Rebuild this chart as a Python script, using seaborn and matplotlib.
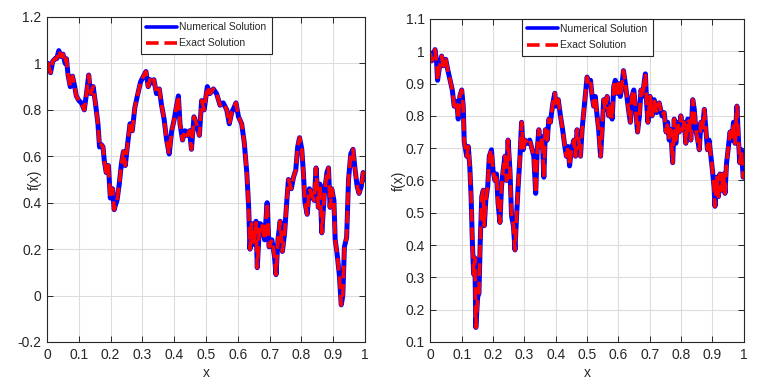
import matplotlib
matplotlib.use("Agg")
import matplotlib.pyplot as plt
import seaborn as sns

# ---------------- data ----------------
left_x = [0.0, 0.003, 0.011, 0.018, 0.025, 0.03, 0.037, 0.043, 0.05, 0.057, 0.061,
          0.066, 0.073, 0.08, 0.087, 0.092, 0.1, 0.108, 0.117, 0.124, 0.131, 0.137,
          0.145, 0.152, 0.16, 0.165, 0.171, 0.176, 0.18, 0.186, 0.193, 0.199, 0.206,
          0.211, 0.215, 0.22, 0.227, 0.234, 0.24, 0.246, 0.253, 0.261, 0.268, 0.276,
          0.284, 0.294, 0.303, 0.311, 0.318, 0.324, 0.329, 0.336, 0.344, 0.353, 0.36,
          0.368, 0.376, 0.384, 0.392, 0.4, 0.405, 0.413, 0.418, 0.426, 0.434, 0.441,
          0.448, 0.454, 0.462, 0.47, 0.479, 0.486, 0.494, 0.504, 0.512, 0.523, 0.533,
          0.544, 0.554, 0.565, 0.573, 0.581, 0.588, 0.594, 0.602, 0.612, 0.62, 0.628,
          0.634, 0.638, 0.643, 0.651, 0.657, 0.661, 0.666, 0.67, 0.677, 0.684, 0.692,
          0.698, 0.707, 0.715, 0.72, 0.726, 0.733, 0.74, 0.747, 0.754, 0.759, 0.768,
          0.775, 0.782, 0.788, 0.794, 0.801, 0.806, 0.811, 0.818, 0.825, 0.833, 0.84,
          0.846, 0.853, 0.858, 0.864, 0.872, 0.88, 0.885, 0.89, 0.895, 0.902, 0.906,
          0.912, 0.919, 0.925, 0.93, 0.935, 0.942, 0.948, 0.955, 0.962, 0.968, 0.975,
          0.981, 0.988, 0.994, 1.0]
left_y = [1.0, 1.0, 0.96, 1.01, 1.02, 1.02, 1.055, 1.03, 1.04, 1.0, 1.02,
          0.95, 0.9, 0.945, 0.9, 0.86, 0.84, 0.83, 0.8, 0.87, 0.95, 0.87,
          0.9, 0.83, 0.74, 0.64, 0.65, 0.64, 0.58, 0.53, 0.56, 0.42, 0.46,
          0.37, 0.39, 0.41, 0.48, 0.57, 0.62, 0.56, 0.65, 0.74, 0.71, 0.81,
          0.86, 0.92, 0.945, 0.965, 0.9, 0.93, 0.916, 0.93, 0.87, 0.89, 0.82,
          0.76, 0.67, 0.61, 0.71, 0.76, 0.8, 0.86, 0.74, 0.67, 0.71, 0.69,
          0.71, 0.63, 0.77, 0.74, 0.69, 0.84, 0.8, 0.9, 0.87, 0.89, 0.87,
          0.82, 0.83, 0.8, 0.74, 0.79, 0.81, 0.83, 0.77, 0.74, 0.66, 0.53,
          0.38, 0.2, 0.31, 0.22, 0.32, 0.12, 0.25, 0.31, 0.3, 0.24, 0.4,
          0.21, 0.24, 0.17, 0.09, 0.24, 0.32, 0.19, 0.27, 0.41, 0.5, 0.46,
          0.51, 0.54, 0.64, 0.68, 0.63, 0.53, 0.4, 0.35, 0.46, 0.43, 0.41,
          0.55, 0.38, 0.48, 0.27, 0.44, 0.53, 0.55, 0.38, 0.46, 0.41, 0.24,
          0.18, 0.09, -0.04, 0.0, 0.21, 0.25, 0.5, 0.61, 0.63, 0.55, 0.47,
          0.44, 0.47, 0.53, 0.5]

right_x = [0.0, 0.004, 0.009, 0.015, 0.02, 0.023, 0.029, 0.036, 0.041, 0.049, 0.055,
           0.063, 0.07, 0.076, 0.084, 0.089, 0.094, 0.1, 0.105, 0.108, 0.116, 0.121,
           0.126, 0.13, 0.134, 0.138, 0.142, 0.145, 0.151, 0.155, 0.159, 0.164, 0.169,
           0.172, 0.177, 0.183, 0.188, 0.195, 0.2, 0.206, 0.211, 0.216, 0.222, 0.227,
           0.232, 0.238, 0.243, 0.248, 0.254, 0.259, 0.265, 0.27, 0.275, 0.28, 0.286,
           0.291, 0.296, 0.302, 0.31, 0.317, 0.325, 0.33, 0.336, 0.341, 0.346, 0.351,
           0.357, 0.362, 0.367, 0.373, 0.378, 0.383, 0.391, 0.397, 0.401, 0.408, 0.415,
           0.422, 0.429, 0.434, 0.44, 0.444, 0.45, 0.458, 0.463, 0.468, 0.473, 0.479,
           0.484, 0.489, 0.495, 0.5, 0.505, 0.511, 0.516, 0.521, 0.526, 0.532, 0.537,
           0.543, 0.548, 0.553, 0.558, 0.564, 0.569, 0.574, 0.58, 0.585, 0.59, 0.595,
           0.6, 0.606, 0.611, 0.616, 0.622, 0.627, 0.632, 0.638, 0.643, 0.649, 0.654,
           0.661, 0.667, 0.672, 0.677, 0.683, 0.686, 0.69, 0.694, 0.701, 0.707, 0.714,
           0.722, 0.73, 0.739, 0.746, 0.752, 0.757, 0.762, 0.767, 0.773, 0.778, 0.783,
           0.789, 0.794, 0.799, 0.805, 0.81, 0.815, 0.821, 0.826, 0.831, 0.837, 0.842,
           0.847, 0.853, 0.858, 0.863, 0.868, 0.874, 0.879, 0.884, 0.889, 0.895, 0.9,
           0.905, 0.908, 0.914, 0.919, 0.924, 0.929, 0.935, 0.94, 0.945, 0.951, 0.956,
           0.962, 0.967, 0.972, 0.978, 0.983, 0.987, 0.992, 0.998, 1.0]
right_y = [0.995, 0.97, 0.99, 1.005, 0.965, 0.91, 0.95, 0.985, 0.955, 0.975, 0.945,
           0.91, 0.88, 0.83, 0.845, 0.79, 0.86, 0.88, 0.83, 0.72, 0.675, 0.705,
           0.64, 0.55, 0.41, 0.31, 0.36, 0.145, 0.24, 0.25, 0.405, 0.55, 0.57,
           0.46, 0.54, 0.58, 0.675, 0.695, 0.63, 0.6, 0.62, 0.53, 0.47, 0.58,
           0.63, 0.675, 0.6, 0.725, 0.63, 0.49, 0.46, 0.385, 0.49, 0.58, 0.675,
           0.78, 0.695, 0.725, 0.715, 0.725, 0.695, 0.675, 0.56, 0.695, 0.757, 0.705,
           0.735, 0.61, 0.757, 0.725, 0.79, 0.78, 0.84, 0.87, 0.83, 0.85, 0.8,
           0.757, 0.705, 0.675, 0.705, 0.645, 0.695, 0.725, 0.675, 0.757, 0.725, 0.675,
           0.757, 0.81, 0.87, 0.92, 0.9, 0.91, 0.86, 0.83, 0.86, 0.8, 0.757,
           0.675, 0.757, 0.85, 0.82, 0.86, 0.8, 0.83, 0.79, 0.89, 0.91, 0.87,
           0.9, 0.86, 0.89, 0.94, 0.9, 0.86, 0.82, 0.78, 0.86, 0.88, 0.83,
           0.75, 0.8, 0.88, 0.86, 0.91, 0.93, 0.84, 0.78, 0.86, 0.8, 0.85,
           0.81, 0.84, 0.8, 0.81, 0.75, 0.78, 0.725, 0.757, 0.655, 0.79, 0.715,
           0.78, 0.75, 0.8, 0.757, 0.78, 0.715, 0.79, 0.78, 0.725, 0.85, 0.82,
           0.757, 0.725, 0.695, 0.78, 0.757, 0.82, 0.757, 0.695, 0.725, 0.675, 0.63,
           0.58, 0.52, 0.61, 0.55, 0.62, 0.57, 0.62, 0.56, 0.655, 0.705, 0.75,
           0.725, 0.78, 0.715, 0.83, 0.725, 0.655, 0.695, 0.61, 0.62]

x_ticks = [0, 0.1, 0.2, 0.3, 0.4, 0.5, 0.6, 0.7, 0.8, 0.9, 1]
x_ticklabels = ["0", "0.1", "0.2", "0.3", "0.4", "0.5", "0.6", "0.7", "0.8", "0.9", "1"]
left_yticks = [-0.2, 0, 0.2, 0.4, 0.6, 0.8, 1, 1.2]
left_yticklabels = ["-0.2", "0", "0.2", "0.4", "0.6", "0.8", "1", "1.2"]
right_yticks = [0.1, 0.2, 0.3, 0.4, 0.5, 0.6, 0.7, 0.8, 0.9, 1, 1.1]
right_yticklabels = ["0.1", "0.2", "0.3", "0.4", "0.5", "0.6", "0.7", "0.8", "0.9", "1", "1.1"]

sns.set_style("whitegrid")
plt.rcParams['font.family'] = ['Liberation Sans', 'DejaVu Sans']

fig = plt.figure(figsize=(7.59, 3.86), dpi=100)
ax1 = fig.add_axes([0.062, 0.114, 0.419, 0.842])
ax2 = fig.add_axes([0.567, 0.114, 0.413, 0.837])


def draw(ax, xs, ys, yticks, yticklabels, ylim, ylabel_x):
    sns.lineplot(x=xs, y=ys, ax=ax, color="#0000ff", linewidth=3.6,
                 estimator=None, sort=False, label="Numerical Solution")
    sns.lineplot(x=xs, y=ys, ax=ax, color="#ff0000", linewidth=2.6,
                 estimator=None, sort=False, label="Exact Solution",
                 linestyle=(0, (3.5, 1.6)))
    ax.set_xlim(0, 1)
    ax.set_ylim(*ylim)
    ax.set_xticks(x_ticks)
    ax.set_xticklabels(x_ticklabels)
    ax.set_yticks(yticks)
    ax.set_yticklabels(yticklabels)
    ax.grid(True, color="#dcdcdc", linewidth=0.8)
    for s in ax.spines.values():
        s.set_color("#262626")
        s.set_linewidth(0.8)
    ax.tick_params(direction="in", length=4, width=0.7, color="#262626",
                   labelsize=10, labelcolor="#262626", pad=4,
                   top=True, right=True, bottom=True, left=True)
    ax.set_xlabel("x", fontsize=10, color="#262626", labelpad=3)
    ax.set_ylabel("f(x)", fontsize=10, color="#262626")
    ax.yaxis.set_label_coords(ylabel_x, 0.5)
    leg = ax.legend(loc="upper center", bbox_to_anchor=(0.5, 1.0),
                    prop={"size": 7.5, "family": ["Liberation Sans Narrow", "Liberation Sans"]},
                    handlelength=3.0, handletextpad=0.2, borderaxespad=0.0,
                    borderpad=0.5, labelspacing=0.6, fancybox=False,
                    framealpha=1, edgecolor="#262626")
    leg.get_frame().set_linewidth(0.8)
    for line in leg.get_lines():
        line.set_linewidth(2.6)
    for t in leg.get_texts():
        t.set_color("#262626")


draw(ax1, left_x, left_y, left_yticks, left_yticklabels, (-0.2, 1.2), -0.017)
draw(ax2, right_x, right_y, right_yticks, right_yticklabels, (0.1, 1.1), -0.078)

fig.savefig("out.png", dpi=100)
